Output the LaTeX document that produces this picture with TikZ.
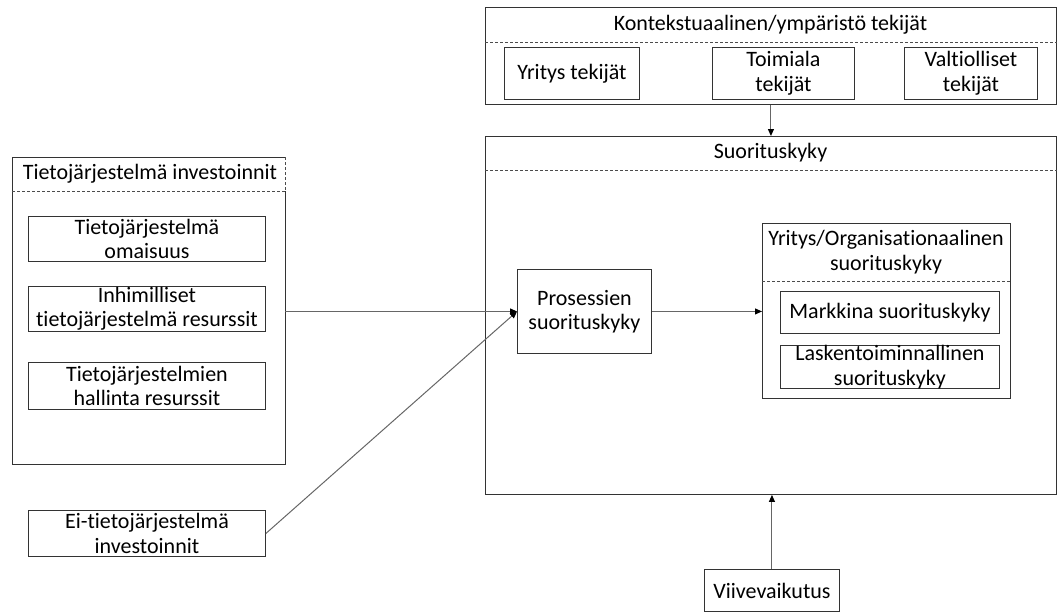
\documentclass[tikz,border=0pt]{standalone}
\usepackage{fontspec}
\setmainfont[Ligatures=NoCommon]{Carlito}
\usetikzlibrary{arrows.meta}
\begin{document}
\begin{tikzpicture}[x=1pt,y=-1pt,
  box/.style={draw=black!80,line width=0.9pt,inner sep=0pt,anchor=north west,align=center},
  txt/.style={inner sep=0pt,align=center},
  dsh/.style={draw=black!70,line width=0.8pt,dash pattern=on 3pt off 2pt},
  arr/.style={draw=black!60,line width=1pt,-{Triangle[length=7pt,width=6pt,color=black]}},
  every node/.style={font=\fontsize{22}{24.5}\selectfont}]
\useasboundingbox (0,0) rectangle (1058,616);
% contextual box
\node[box,minimum width=571pt,minimum height=97pt] (ctx) at (485,7) {};
\node[txt] (ctxt) at (770.5,24.5) {Kontekstuaalinen/ympäristö tekijät};
\draw[dsh] (ctx.west |- 0,42) -- (ctx.east |- 0,42);
\node[box,minimum width=135pt,minimum height=52pt] (yt) at (504,47) {Yritys tekijät};
\node[box,minimum width=142pt,minimum height=52pt] (tt) at (712,47) {Toimiala\\tekijät};
\node[box,minimum width=133pt,minimum height=52pt] (vt) at (904,47) {Valtiolliset\\tekijät};
% performance box
\node[box,minimum width=571pt,minimum height=358pt] (perf) at (485,136) {};
\node[txt] (perft) at (770.5,153) {Suorituskyky};
\draw[dsh] (perf.west |- 0,170) -- (perf.east |- 0,170);
\node[box,minimum width=134pt,minimum height=84pt] (proc) at (517,269) {Prosessien\\suorituskyky};
\node[box,minimum width=248pt,minimum height=175pt] (org) at (762,223) {};
\node[txt] (orgt) at (886,252) {Yritys/Organisationaalinen\\suorituskyky};
\draw[dsh] (org.west |- 0,281) -- (org.east |- 0,281);
\node[box,minimum width=219pt,minimum height=42pt] (mark) at (780,291) {Markkina suorituskyky};
\node[box,minimum width=219pt,minimum height=43pt] (lask) at (780,345) {};
\node[txt] (laskt) at (lask.center) {Laskentoiminnallinen\\suorituskyky};
% IS investments
\node[inner sep=0pt,anchor=north west,minimum width=273pt,minimum height=307pt] (inv) at (12,157) {};
\draw[black!80,line width=0.9pt] (inv.east |- 0,191) -- (inv.south east) -- (inv.south west) -- (inv.north west) -- (inv.north east);
\draw[dsh] (inv.north east) -- (inv.east |- 0,191);
\node[txt] (invt) at (150,174) {Tietojärjestelmä investoinnit};
\draw[dsh] (inv.west |- 0,191) -- (inv.east |- 0,191);
\node[box,minimum width=237pt,minimum height=45pt] (om) at (28,216) {Tietojärjestelmä\\omaisuus};
\node[box,minimum width=237pt,minimum height=45pt] (hum) at (28,286) {Inhimilliset\\tietojärjestelmä resurssit};
\node[box,minimum width=237pt,minimum height=47pt] (hal) at (28,362) {Tietojärjestelmien\\hallinta resurssit};
\node[box,minimum width=237pt,minimum height=46pt] (ei) at (28,510) {Ei-tietojärjestelmä\\investoinnit};
\node[box,minimum width=135pt,minimum height=42pt] (viive) at (704,569) {Viivevaikutus};
% connectors
\draw[arr] (ctx.south) -- (perf.north);
\draw[arr] (viive.north) -- (viive.north |- perf.south);
\draw[arr] (inv.east |- proc.west) -- (proc.west);
\draw[arr] (ei.east) -- (proc.west);
\draw[arr] (proc.east) -- (org.west |- proc.east);
\end{tikzpicture}
\end{document}
